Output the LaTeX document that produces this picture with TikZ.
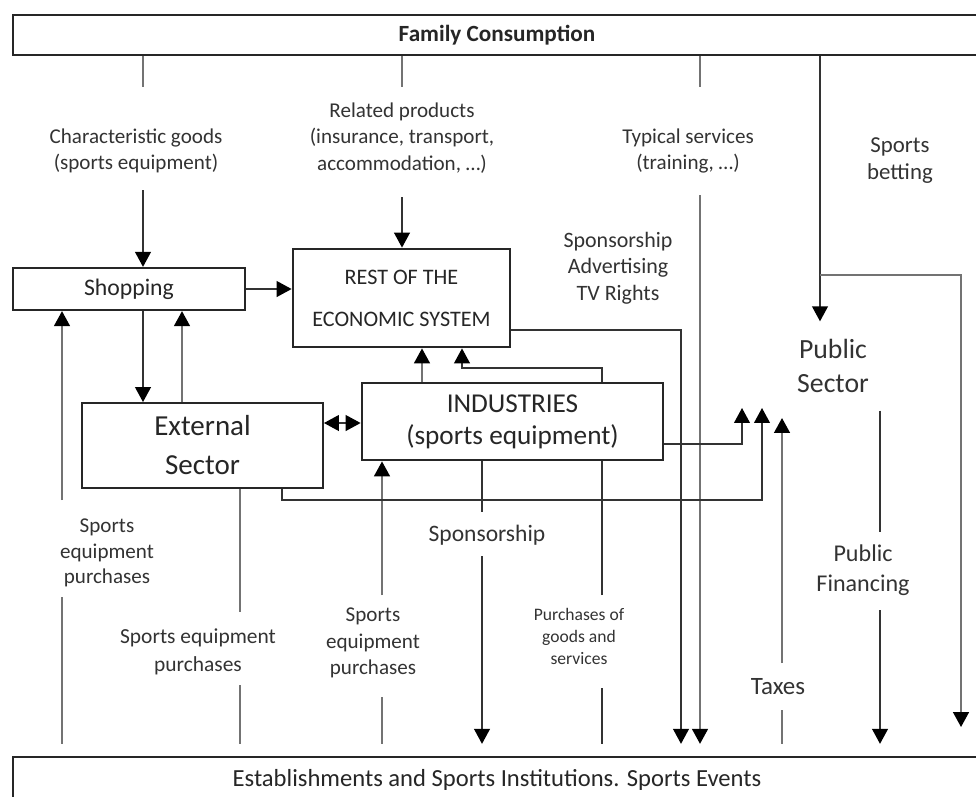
\documentclass[tikz,border=0pt]{standalone}
\usepackage{fontspec}
\setmainfont{Carlito}
\usetikzlibrary{arrows.meta,backgrounds}
\begin{document}
\begin{tikzpicture}[x=0.02cm,y=-0.02cm,
  box/.style={draw=black!85, line width=1.2pt, fill=white, align=center, inner sep=0pt, text=black!85},
  thickbox/.style={box, line width=1.6pt},
  lbl/.style={align=center, inner sep=0pt, text=black!80, font=\fontsize{12}{15}\selectfont},
  c/.style={draw=black!80, line width=0.8pt},
  g/.style={draw=black!55, line width=1.1pt},
  tip/.style={-{Triangle[width=9pt,length=8.5pt,color=black]}},
  dtip/.style={{Triangle[width=9pt,length=8.5pt,color=black]}-{Triangle[width=9pt,length=8.5pt,color=black]}},
]
\clip (0,0) rectangle (976,796);
% boxes
\node[box, line width=1.5pt, minimum width=19.36cm, minimum height=0.8cm, font=\bfseries\fontsize{13.2}{16}\selectfont] (fam) at (497,35) {Family Consumption};
\node[box, line width=1.5pt, minimum width=19.36cm, minimum height=0.92cm, outer ysep=7.5pt, font=\fontsize{14}{17}\selectfont] (est) at (497,780) {Establishments and Sports Institutions. Sports Events};
\node[box, line width=1.3pt, minimum width=4.64cm, minimum height=0.84cm, font=\fontsize{13.5}{16}\selectfont] (shop) at (129,289) {Shopping};
\node[thickbox, minimum width=4.34cm, minimum height=1.96cm, font=\fontsize{12.6}{24}\selectfont] (rest) at (401.5,298) {REST OF THE\\ECONOMIC SYSTEM};
\node[box, line width=1.1pt, minimum width=4.82cm, minimum height=1.70cm, font=\fontsize{16.5}{22.2}\selectfont] (ext) at (202.5,445.5) {External\\Sector};
\node[thickbox, minimum width=6.02cm, minimum height=1.54cm, font=\fontsize{15.5}{18.2}\selectfont] (ind) at (512.5,421.5) {INDUSTRIES\\(sports equipment)};
\node[lbl, font=\fontsize{15.8}{19.4}\selectfont, inner xsep=2pt, inner ysep=10pt] (pub) at (833,366) {Public\\Sector};
% labels
\node[lbl] (lchar) at (136,151) {Characteristic goods\\(sports equipment)};
\node[lbl] (lrel) at (402,138) {Related products\\(insurance, transport,\\accommodation, …)};
\node[lbl] (ltyp) at (688,151) {Typical services\\(training, …)};
\node[lbl, font=\fontsize{13}{15.4}\selectfont] (lbet) at (900,161) {Sports\\betting};
\node[lbl, font=\fontsize{12.5}{15.2}\selectfont] (lspo) at (618,268) {Sponsorship\\Advertising\\TV Rights};
\node[lbl, font=\fontsize{12}{14.5}\selectfont] (lsp1) at (107,553) {Sports\\equipment\\purchases};
\node[lbl, font=\fontsize{12.2}{16}\selectfont] (lsp2) at (198,652) {Sports equipment\\purchases};
\node[lbl] (lsp3) at (373,643) {Sports\\equipment\\purchases};
\node[lbl, font=\fontsize{13.4}{16}\selectfont] (lspon) at (487,535) {Sponsorship};
\node[lbl, font=\fontsize{10}{12.5}\selectfont] (lpur) at (579,636) {Purchases of\\goods and\\services};
\node[lbl, font=\fontsize{14.2}{17}\selectfont] (ltax) at (778,687) {Taxes};
\node[lbl, font=\fontsize{13.7}{17}\selectfont] (lfin) at (863,570) {Public\\Financing};
% helper coordinates
\foreach \x in {62,143,182,240,282,382,402,422,462,482,602,681,700,742,762,782,820,880,961}
  \coordinate (X\x) at (\x,0);
\foreach \y in {330,423,444}
  \coordinate (Y\y) at (0,\y);
\coordinate (betend) at (961,727);
\coordinate (indout) at (742,408);
\coordinate (extout) at (762,408);
\coordinate (taxend) at (782,418);
% connectors from family consumption
\draw[g] (fam.south -| X143) -- (143,87);
\draw[c,tip] (143,190) -- (shop.north -| X143);
\draw[g] (fam.south -| X402) -- (402,87);
\draw[c,tip] (402,197) -- (rest.north -| X402);
\draw[g] (fam.south -| X700) -- (700,87);
\draw[g,tip] (700,195) -- (est.north -| X700);
\draw[c,tip] (fam.south -| X820) -- (pub.north -| X820);
\draw[g,tip] (820,275) -- (961,275) -- (betend);
% shopping / external / rest
\draw[c,tip] (shop.east) -- (rest.west |- shop.east);
\draw[c,tip] (shop.south -| X143) -- (ext.north -| X143);
\draw[g,tip] (ext.north -| X182) -- (shop.south -| X182);
\draw[g] (est.north -| X62) -- (62,597);
\draw[g,tip] (62,500) -- (shop.south -| X62);
\draw[g] (ext.south -| X240) -- (240,612);
\draw[g] (240,685) -- (est.north -| X240);
\draw[c,dtip] (ext.east |- Y423) -- (ind.west |- Y423);
% industries
\draw[g] (est.north -| X382) -- (382,697);
\draw[g,tip] (382,595) -- (ind.south -| X382);
\draw[c] (ind.south -| X482) -- (482,512);
\draw[c,tip] (482,556) -- (est.north -| X482);
\draw[g,tip] (ind.north -| X422) -- (rest.south -| X422);
\draw[c,tip] (ind.east |- Y444) -- (742,444) -- (indout);
\draw[c,tip] (ext.south -| X282) -- (282,500) -- (762,500) -- (extout);
\draw[c,tip] (rest.east |- Y330) -- (681,330) -- (est.north -| X681);
% taxes, public financing
\draw[g] (est.north -| X782) -- (782,710);
\draw[g,tip] (782,663) -- (taxend);
\draw[c] (pub.south -| X880) -- (880,532);
\draw[c,tip] (880,610) -- (est.north -| X880);
\begin{pgfonlayer}{background}
\fill[white] (0,0) rectangle (976,796);
\draw[c] (est.north -| X602) -- (602,688);
\draw[c,tip] (602,595) -- (602,368) -- (462,368) -- (rest.south -| X462);
\end{pgfonlayer}
\end{tikzpicture}
\end{document}
